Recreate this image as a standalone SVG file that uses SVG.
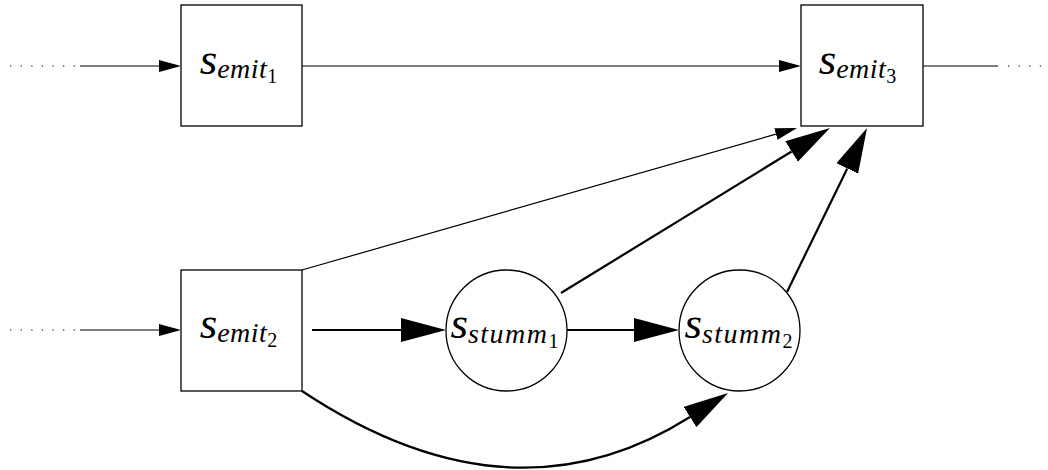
<svg xmlns="http://www.w3.org/2000/svg" width="1048" height="470" viewBox="0 0 1048 470">
  <style>
    .box { fill: #fff; stroke: #000; stroke-width: 1.3; }
    .thin { fill: none; stroke: #000; stroke-width: 1.2; }
    .thick { fill: none; stroke: #000; stroke-width: 2.2; }
    .dots { fill: none; stroke: #000; stroke-width: 1.2; stroke-dasharray: 1.3 9.3; }
    .lbl { font-family: "Liberation Serif", "Times New Roman", serif; font-style: italic; font-size: 45px; fill: #000; text-anchor: middle; }
    .sub { font-size: 28px; letter-spacing: 0.5px; }
    .wide { letter-spacing: 1.5px; }
    .sub2 { font-size: 20px; font-style: normal; letter-spacing: 0; }
  </style>
  <defs>
    <marker id="arrow-sm" markerUnits="userSpaceOnUse" viewBox="0 0 22 12" refX="0" refY="6" markerWidth="22" markerHeight="12" orient="auto">
      <path d="M0,0 L22,6 L0,12 z" fill="#000"/>
    </marker>
    <marker id="arrow-lg" markerUnits="userSpaceOnUse" viewBox="0 0 45 24" refX="0" refY="12" markerWidth="45" markerHeight="24" orient="auto">
      <path d="M0,0 L45,12 L0,24 z" fill="#000"/>
    </marker>
  </defs>

  <g id="connectors">
    <!-- incoming to s_emit1 -->
    <path class="dots" d="M10,66 H78"/>
    <path class="thin" d="M80,66 H159" marker-end="url(#arrow-sm)"/>
    <!-- s_emit1 to s_emit3 -->
    <path class="thin" d="M302,66 H779" marker-end="url(#arrow-sm)"/>
    <!-- outgoing from s_emit3 -->
    <path class="thin" d="M923,66 H998"/>
    <path class="dots" d="M1008,66 H1042"/>
    <!-- incoming to s_emit2 -->
    <path class="dots" d="M10,330 H78"/>
    <path class="thin" d="M80,330 H159" marker-end="url(#arrow-sm)"/>
    <!-- s_emit2 to s_emit3 -->
    <path class="thin" d="M302,270 L775.9,134.1" marker-end="url(#arrow-sm)"/>
    <!-- s_emit2 to s_stumm1 -->
    <path class="thick" d="M312,330 H401" marker-end="url(#arrow-lg)"/>
    <!-- s_stumm1 to s_stumm2 -->
    <path class="thick" d="M567,330 H634" marker-end="url(#arrow-lg)"/>
    <!-- s_stumm1 to s_emit3 -->
    <path class="thick" d="M561,293 L791.6,151.5" marker-end="url(#arrow-lg)"/>
    <!-- s_stumm2 to s_emit3 -->
    <path class="thick" d="M787,292 L847.3,168.4" marker-end="url(#arrow-lg)"/>
    <!-- s_emit2 to s_stumm2 (curved) -->
    <path class="thick" d="M302,391 Q511,530 690,417" marker-end="url(#arrow-lg)"/>
  </g>

  <g id="s-emit1">
    <rect class="box" x="181" y="5" width="121" height="121"/>
    <text class="lbl" x="238.5" y="74">s<tspan class="sub" dy="4">emit</tspan><tspan class="sub2" dy="5">1</tspan></text>
  </g>
  <g id="s-emit3">
    <rect class="box" x="801" y="5" width="122" height="121"/>
    <text class="lbl" x="857.5" y="74">s<tspan class="sub" dy="4">emit</tspan><tspan class="sub2" dy="5">3</tspan></text>
  </g>
  <g id="s-emit2">
    <rect class="box" x="181" y="270" width="121" height="121"/>
    <text class="lbl" x="238.5" y="338">s<tspan class="sub" dy="4">emit</tspan><tspan class="sub2" dy="5">2</tspan></text>
  </g>
  <g id="s-stumm1">
    <circle class="box" cx="506.5" cy="330.5" r="60.5"/>
    <text class="lbl" x="504.5" y="338">s<tspan class="sub wide" dy="5">stumm</tspan><tspan class="sub2" dy="5">1</tspan></text>
  </g>
  <g id="s-stumm2">
    <circle class="box" cx="739.5" cy="330.5" r="60.5"/>
    <text class="lbl" x="738.5" y="338">s<tspan class="sub wide" dy="5">stumm</tspan><tspan class="sub2" dy="5">2</tspan></text>
  </g>
</svg>
